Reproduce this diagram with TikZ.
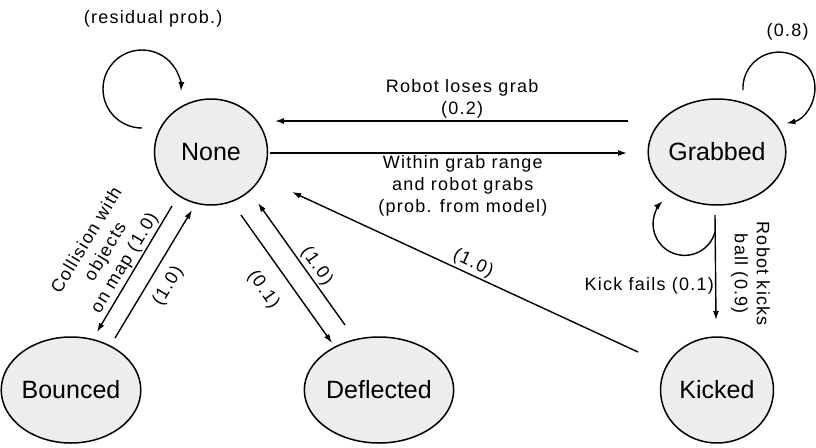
\documentclass[tikz,border=0pt]{standalone}
\usepackage{fontspec}
\setmainfont{Liberation Sans}
\newfontfamily\lblfamily{Liberation Sans}[LetterSpace=7]
\usepackage{tikz}
\usetikzlibrary{positioning, arrows.meta, shapes.geometric}
\definecolor{statefill}{RGB}{237, 237, 237}

\begin{document}
\begin{tikzpicture}[x=1pt, y=1pt,
    statenode/.style={ellipse, draw=black, fill=statefill, line width=1.5pt, minimum width=113pt, minimum height=106pt, inner sep=0pt, font=\fontsize{25}{30}\selectfont},
    arrow/.style={-{Latex[length=9pt, width=6pt]}, line width=1.4pt, black},
    lbl/.style={font=\lblfamily\fontsize{18}{22}\selectfont, align=center, inner sep=2pt}
]
    \useasboundingbox (0,0) rectangle (816,-447);

    % Estados
    \node (none) [statenode] at (211,-152) {None};
    \node (grabbed) [statenode, on grid, right=506pt of none] {Grabbed};
    \node (bounced) [statenode, on grid, below left=238pt and 140pt of none] {Bounced};
    \node (deflected) [statenode, on grid, below right=238pt and 168pt of none] {Deflected};
    \node (kicked) [statenode, on grid, below=238pt of grabbed] {Kicked};

    % Transiciones
    \draw [arrow] ([shift={(-89,31)}]grabbed.center) -- ([shift={(64,31)}]none.center)
        node (losegrab) [lbl, above, pos=0.47] {Robot loses grab\\(0.2)};
    \draw [arrow] ([shift={(59,-1)}]none.center) -- ([shift={(-90,-1)}]grabbed.center)
        node (getgrab) [lbl, below, pos=0.54] {Within grab range\\and robot grabs\\(prob. from model)};

    \draw [arrow] ([shift={(-39,-54)}]none.center) -- ([shift={(26,58)}]bounced.center)
        node (collide) [lbl, midway, rotate=59, anchor=south] {Collision with\\objects\\on map (1.0)};
    \draw [arrow] ([shift={(44,52)}]bounced.center) -- ([shift={(-19,-58)}]none.center)
        node (bounceback) [lbl, pos=0.48, rotate=59, anchor=north, inner sep=10pt] {(1.0)};

    \draw [arrow] ([shift={(30,-63)}]none.center) -- ([shift={(-47,47)}]deflected.center)
        node (deflect) [lbl, pos=0.47, rotate=-55, anchor=north, inner sep=16pt] {(0.1)};
    \draw [arrow] ([shift={(-34,65)}]deflected.center) -- ([shift={(47,-51)}]none.center)
        node (deflectback) [lbl, pos=0.43, rotate=-55, anchor=south, inner sep=2pt] {(1.0)};

    \draw [arrow] ([shift={(-79,38)}]kicked.center) -- ([shift={(81,-40)}]none.center)
        node (kickback) [lbl, pos=0.49, rotate=-25, anchor=south] {(1.0)};

    \draw [arrow] ([shift={(-2,-63)}]grabbed.center) -- ([shift={(-1,70)}]kicked.center)
        node (kickfail) [lbl, left, pos=0.67, inner sep=1pt] {Kick fails (0.1)}
        node (kickok) [lbl, pos=0.56, rotate=-90, anchor=south, inner sep=15pt] {Robot kicks\\ball (0.9)};

    % Lazos
    \draw [arrow] ([shift={(-69,24)}]none.center) arc [start angle=270, end angle=-3, radius=39]
        node (residual) [lbl, pos=0.72, above=22pt] {(residual prob.)};
    \draw [arrow] ([shift={(26,62)}]grabbed.center) arc [start angle=183, end angle=-78, radius=36]
        node (keep) [lbl, pos=0.41, above=10pt] {(0.8)};
    \draw [arrow] ([shift={(-2,-80)}]grabbed.center) arc [start angle=-15, end angle=-226, radius=31.5];
\end{tikzpicture}
\end{document}
